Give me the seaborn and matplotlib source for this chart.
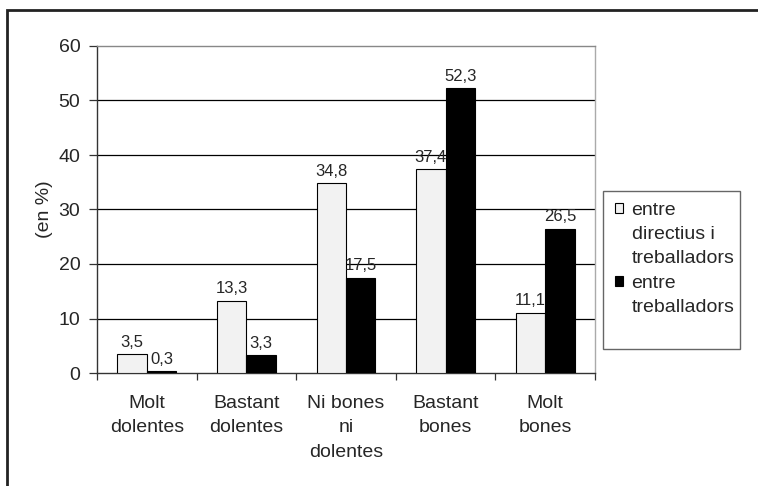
import pandas as pd
import seaborn as sns
import matplotlib.pyplot as plt
from matplotlib.patches import Rectangle

sns.set_style("white")
plt.rcParams['font.family'] = ['Liberation Sans', 'DejaVu Sans']

categories = ["Molt\ndolentes", "Bastant\ndolentes", "Ni bones\nni\ndolentes", "Bastant\nbones", "Molt\nbones"]
series = ["entre directius i treballadors", "entre treballadors"]
legend_lines = [["entre", "directius i", "treballadors"], ["entre", "treballadors"]]
directius = [3.5, 13.3, 34.8, 37.4, 11.1]
treballadors = [0.3, 3.3, 17.5, 52.3, 26.5]
colors = ["#F2F2F2", "black"]

df = pd.DataFrame({
    "cat": categories * 2,
    "serie": [series[0]] * 5 + [series[1]] * 5,
    "val": directius + treballadors,
})

fig = plt.figure(figsize=(7.58, 4.86), dpi=100)
ax = fig.add_axes([97/758, 1 - 373/486, (595 - 97)/758, (373 - 46)/486])

sns.barplot(data=df, x="cat", y="val", hue="serie", order=categories, hue_order=series,
            palette=colors, width=0.59, edgecolor="black", linewidth=0.8,
            saturation=1, ax=ax, zorder=3, legend=False)

for cont in ax.containers:
    ax.bar_label(cont, labels=[f"{v:.1f}".replace(".", ",") for v in cont.datavalues],
                 padding=3, fontsize=12)

ax.set_ylim(0, 60)
ax.set_xlim(-0.5, 4.5)
ax.set_yticks(range(0, 61, 10))
for y in range(10, 60, 10):
    ax.axhline(y, color="black", lw=0.9, zorder=1)
ax.tick_params(axis="y", labelsize=14, length=6, width=0.9, color="#333333", pad=6, left=True)
ax.tick_params(axis="x", which="major", length=0, labelsize=14, pad=16)
ax.set_xticks([i - 0.5 for i in range(6)], minor=True)
ax.tick_params(axis="x", which="minor", length=5, width=0.9, color="#333333", bottom=True)
for lab in ax.get_xticklabels():
    lab.set_linespacing(1.55)
ax.set_xlabel("")
ax.set_ylabel("(en %)", fontsize=14, labelpad=4)

ax.spines["left"].set_color("#333333")
ax.spines["bottom"].set_color("#333333")
ax.spines["top"].set_color("#888888")
ax.spines["right"].set_color("#aaaaaa")
for s in ax.spines.values():
    s.set_linewidth(1)

# legend: one row per text line, square only on the first line of each entry
handles, labels = [], []
for col, lines in zip(colors, legend_lines):
    for i, line in enumerate(lines):
        if i == 0:
            handles.append(Rectangle((0, 0), 1, 1, facecolor=col, edgecolor="black", lw=0.8))
        else:
            handles.append(Rectangle((0, 0), 1, 1, fill=False, edgecolor="none"))
        labels.append(line)
leg = ax.legend(handles, labels, loc="upper left", bbox_to_anchor=(603/758, 1 - 190/486),
                bbox_transform=fig.transFigure, borderaxespad=0, frameon=False,
                fontsize=14, handlelength=0.42, handleheight=0.42,
                handletextpad=0.45, labelspacing=0.38, borderpad=0.6)
fig.patches.append(Rectangle((603/758, 1 - 349/486), 137/758, 158/486, transform=fig.transFigure,
                             fill=False, edgecolor="#666666", lw=1))

fig.patches.append(Rectangle((7/758, -0.5), 2, 1.5 - 10/486, transform=fig.transFigure,
                             fill=False, edgecolor="#222222", lw=2))

fig.savefig("out.png", dpi=100)
